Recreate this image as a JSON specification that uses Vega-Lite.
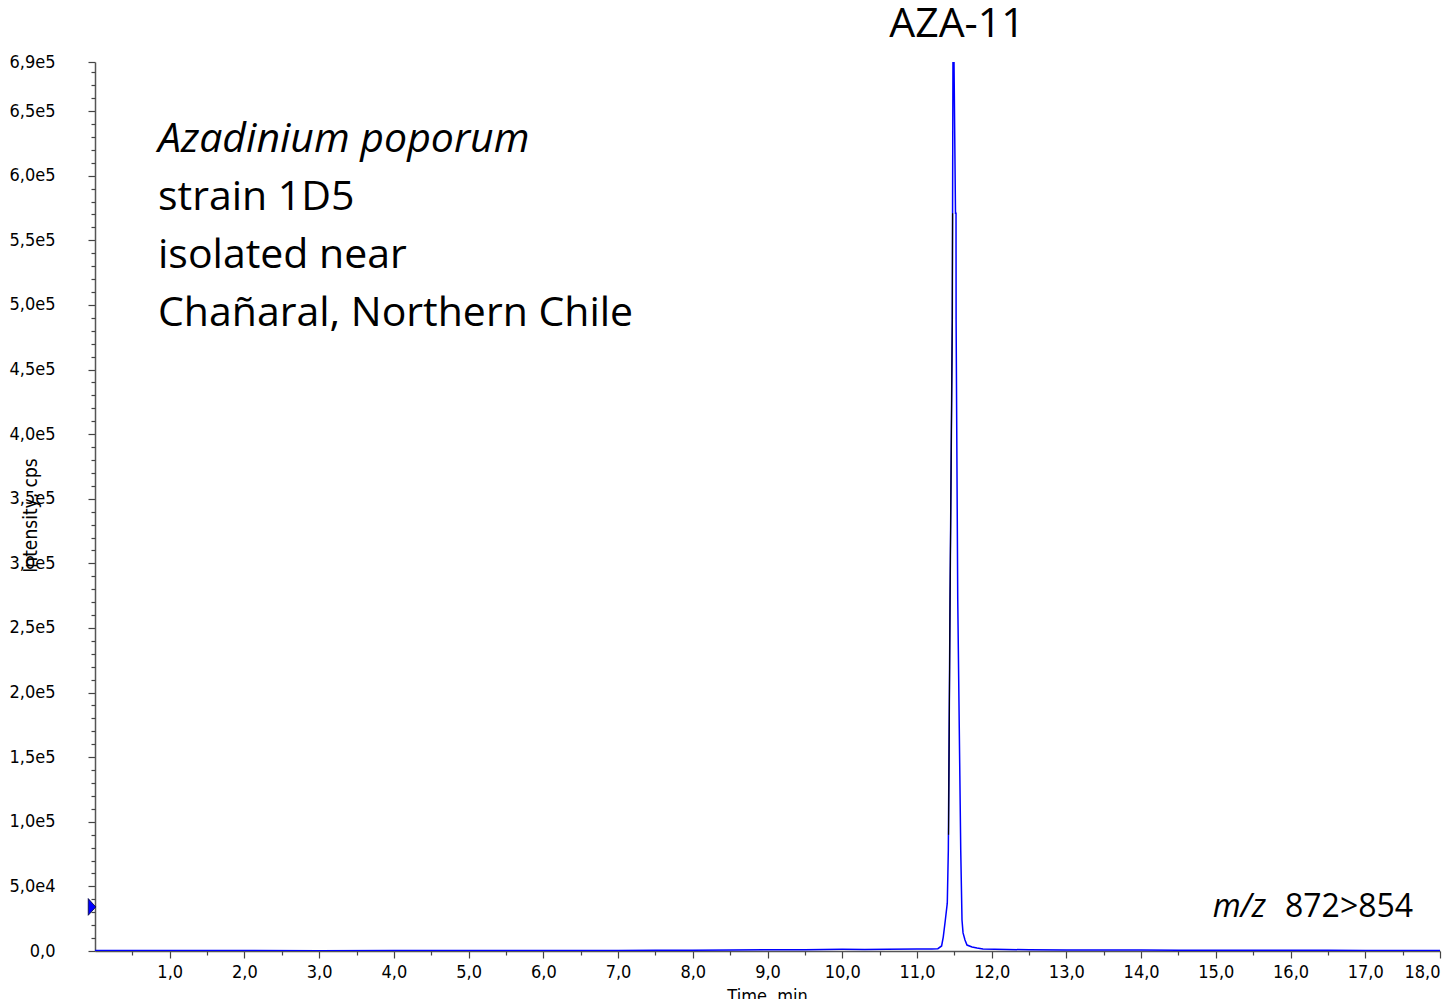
{
  "$schema": "https://vega.github.io/schema/vega-lite/v6.json",
  "width": 1345,
  "height": 889,
  "autosize": {"type": "none"},
  "padding": {"left": 95, "top": 62, "right": 9, "bottom": 48},
  "background": "white",
  "config": {"view": {"stroke": null}},
  "resolve": {"axis": {"x": "independent", "y": "independent"}},
  "datasets": {
    "trace": [
      {"t": 0, "v": 400}, {"t": 1, "v": 300}, {"t": 2, "v": 300}, {"t": 3, "v": 250},
      {"t": 4, "v": 300}, {"t": 5, "v": 300}, {"t": 6, "v": 350}, {"t": 7, "v": 400},
      {"t": 7.5, "v": 500}, {"t": 8, "v": 600}, {"t": 8.5, "v": 800}, {"t": 9, "v": 900},
      {"t": 9.5, "v": 1000}, {"t": 10, "v": 1300}, {"t": 10.3, "v": 1100}, {"t": 10.6, "v": 1300},
      {"t": 11, "v": 1500}, {"t": 11.2, "v": 1600}, {"t": 11.28, "v": 1800}, {"t": 11.33, "v": 3900},
      {"t": 11.352, "v": 10800}, {"t": 11.38, "v": 24000}, {"t": 11.406, "v": 37000},
      {"t": 11.42, "v": 78000}, {"t": 11.443, "v": 272000}, {"t": 11.473, "v": 489000},
      {"t": 11.482, "v": 688000}, {"t": 11.496, "v": 688000}, {"t": 11.516, "v": 571000},
      {"t": 11.523, "v": 571000}, {"t": 11.524, "v": 489000}, {"t": 11.546, "v": 272000},
      {"t": 11.586, "v": 78000}, {"t": 11.603, "v": 24000}, {"t": 11.617, "v": 14000},
      {"t": 11.643, "v": 8500}, {"t": 11.67, "v": 4600}, {"t": 11.737, "v": 3100},
      {"t": 11.804, "v": 2300}, {"t": 11.884, "v": 1500}, {"t": 12.2, "v": 1200},
      {"t": 12.5, "v": 900}, {"t": 13, "v": 800}, {"t": 13.5, "v": 700}, {"t": 14, "v": 700},
      {"t": 14.5, "v": 600}, {"t": 15, "v": 600}, {"t": 15.5, "v": 500}, {"t": 16, "v": 500},
      {"t": 16.5, "v": 500}, {"t": 17, "v": 400}, {"t": 17.5, "v": 400}, {"t": 18, "v": 400}
    ],
    "overlay": [
      {"t": 11.423, "v": 90000}, {"t": 11.443, "v": 272000}, {"t": 11.473, "v": 489000}, {"t": 11.477, "v": 571000}
    ],
    "marker": [{"t": -0.04, "v": 34100}],
    "italicLeft": [{"label": "Azadinium poporum", "t": 0.843, "v": 618400}],
    "normalLeft": [
      {"label": "strain 1D5", "t": 0.843, "v": 573500},
      {"label": "isolated near", "t": 0.843, "v": 528600},
      {"label": "Chañaral, Northern Chile", "t": 0.843, "v": 483750}
    ],
    "mzNum": [{"label": "872>854", "t": 15.926, "v": 26350}],
    "mzItalic": [{"label": "m/z", "t": 15.672, "v": 26350}],
    "center": [{"label": "AZA-11", "t": 11.536, "v": 707000}]
  },
  "layer": [
    {
      "data": {"name": "trace"},
      "mark": {"type": "line", "color": "#0000ff", "strokeWidth": 1.5, "clip": true},
      "encoding": {
        "x": {
          "field": "t", "type": "quantitative",
          "scale": {"domain": [0, 18], "nice": false, "zero": false},
          "axis": {
            "orient": "bottom",
            "values": [1,2,3,4,5,6,7,8,9,10,11,12,13,14,15,16,17,18],
            "labelExpr": "replace(format(datum.value, '.1f'), '.', ',')",
            "labelOverlap": false,
            "labelFlush": true,
            "labelFont": "Liberation Sans Narrow, DejaVu Sans Condensed, Liberation Sans",
            "labelFontSize": 18,
            "labelColor": "#000000",
            "labelPadding": 5,
            "tickSize": 7,
            "tickColor": "#444444",
            "tickWidth": 1.2,
            "domainColor": "#555555",
            "domainWidth": 1.5,
            "grid": false,
            "title": "Time, min",
            "titleFont": "Liberation Sans Narrow, DejaVu Sans Condensed, Liberation Sans",
            "titleFontSize": 18,
            "titleFontWeight": "normal",
            "titleColor": "#000000",
            "titleX": 672,
            "titleY": 36,
            "titleBaseline": "top",
            "titleAlign": "center"
          }
        },
        "y": {
          "field": "v", "type": "quantitative",
          "scale": {"domain": [0, 688000], "nice": false, "zero": true},
          "axis": {
            "orient": "left",
            "values": [0,50000,100000,150000,200000,250000,300000,350000,400000,450000,500000,550000,600000,650000,688000],
            "labelExpr": "datum.value == 0 ? '0,0' : datum.value == 688000 ? '6,9e5' : datum.value == 50000 ? '5,0e4' : replace(format(datum.value / 100000, '.1f'), '.', ',') + 'e5'",
            "labelOverlap": false,
            "labelFlush": false,
            "labelFont": "Liberation Sans Narrow, DejaVu Sans Condensed, Liberation Sans",
            "labelFontSize": 18,
            "labelColor": "#000000",
            "labelPadding": 33,
            "tickSize": 7,
            "tickColor": "#444444",
            "tickWidth": 1.2,
            "domainColor": "#555555",
            "domainWidth": 1.5,
            "grid": false,
            "title": "Intensity, cps",
            "titleFont": "Liberation Sans Narrow, DejaVu Sans Condensed, Liberation Sans",
            "titleFontSize": 19,
            "titleFontWeight": "normal",
            "titleColor": "#000000",
            "titleX": -65,
            "titleY": 453,
            "titleAngle": -90,
            "titleAlign": "center",
            "titleBaseline": "middle"
          }
        }
      }
    },
    {
      "data": {"name": "overlay"},
      "mark": {"type": "line", "color": "#000000", "strokeWidth": 1.2, "clip": true},
      "encoding": {"x": {"field": "t", "type": "quantitative", "axis": null}, "y": {"field": "v", "type": "quantitative", "axis": null}}
    },
    {
      "data": {"name": "marker"},
      "mark": {"type": "point", "shape": "M-0.45,-1L0.45,0L-0.45,1Z", "size": 280, "filled": true, "color": "#0000ff", "stroke": "#000033", "strokeWidth": 0.8, "opacity": 1},
      "encoding": {
        "x": {
          "field": "t", "type": "quantitative",
          "axis": {
            "orient": "bottom",
            "offset": 0,
            "values": [0.5,1.5,2.5,3.5,4.5,5.5,6.5,7.5,8.5,9.5,10.5,11.5,12.5,13.5,14.5,15.5,16.5,17.5],
            "labels": false,
            "domain": false,
            "grid": false,
            "tickSize": 4,
            "tickColor": "#444444",
            "tickWidth": 1.2,
            "title": null
          }
        },
        "y": {
          "field": "v", "type": "quantitative",
          "axis": {
            "orient": "left",
            "offset": 0,
            "values": [10000,20000,30000,40000,60000,70000,80000,90000,110000,120000,130000,140000,160000,170000,180000,190000,210000,220000,230000,240000,260000,270000,280000,290000,310000,320000,330000,340000,360000,370000,380000,390000,410000,420000,430000,440000,460000,470000,480000,490000,510000,520000,530000,540000,560000,570000,580000,590000,610000,620000,630000,640000,660000,670000,680000],
            "labels": false,
            "domain": false,
            "grid": false,
            "tickSize": 4,
            "tickColor": "#444444",
            "tickWidth": 1.2,
            "title": null
          }
        }
      }
    },
    {
      "data": {"name": "italicLeft"},
      "mark": {"type": "text", "font": "Open Sans", "fontSize": 41, "fontStyle": "italic", "align": "left", "baseline": "alphabetic", "color": "#000000"},
      "encoding": {"x": {"field": "t", "type": "quantitative", "axis": null}, "y": {"field": "v", "type": "quantitative", "axis": null}, "text": {"field": "label"}}
    },
    {
      "data": {"name": "normalLeft"},
      "mark": {"type": "text", "font": "Open Sans", "fontSize": 41, "align": "left", "baseline": "alphabetic", "color": "#000000"},
      "encoding": {"x": {"field": "t", "type": "quantitative", "axis": null}, "y": {"field": "v", "type": "quantitative", "axis": null}, "text": {"field": "label"}}
    },
    {
      "data": {"name": "mzNum"},
      "mark": {"type": "text", "font": "Open Sans", "fontSize": 32, "align": "left", "baseline": "alphabetic", "color": "#000000"},
      "encoding": {"x": {"field": "t", "type": "quantitative", "axis": null}, "y": {"field": "v", "type": "quantitative", "axis": null}, "text": {"field": "label"}}
    },
    {
      "data": {"name": "mzItalic"},
      "mark": {"type": "text", "font": "Open Sans", "fontSize": 32, "fontStyle": "italic", "align": "right", "baseline": "alphabetic", "color": "#000000"},
      "encoding": {"x": {"field": "t", "type": "quantitative", "axis": null}, "y": {"field": "v", "type": "quantitative", "axis": null}, "text": {"field": "label"}}
    },
    {
      "data": {"name": "center"},
      "mark": {"type": "text", "font": "Open Sans", "fontSize": 41, "align": "center", "baseline": "alphabetic", "color": "#000000"},
      "encoding": {"x": {"field": "t", "type": "quantitative", "axis": null}, "y": {"field": "v", "type": "quantitative", "axis": null}, "text": {"field": "label"}}
    }
  ]
}
